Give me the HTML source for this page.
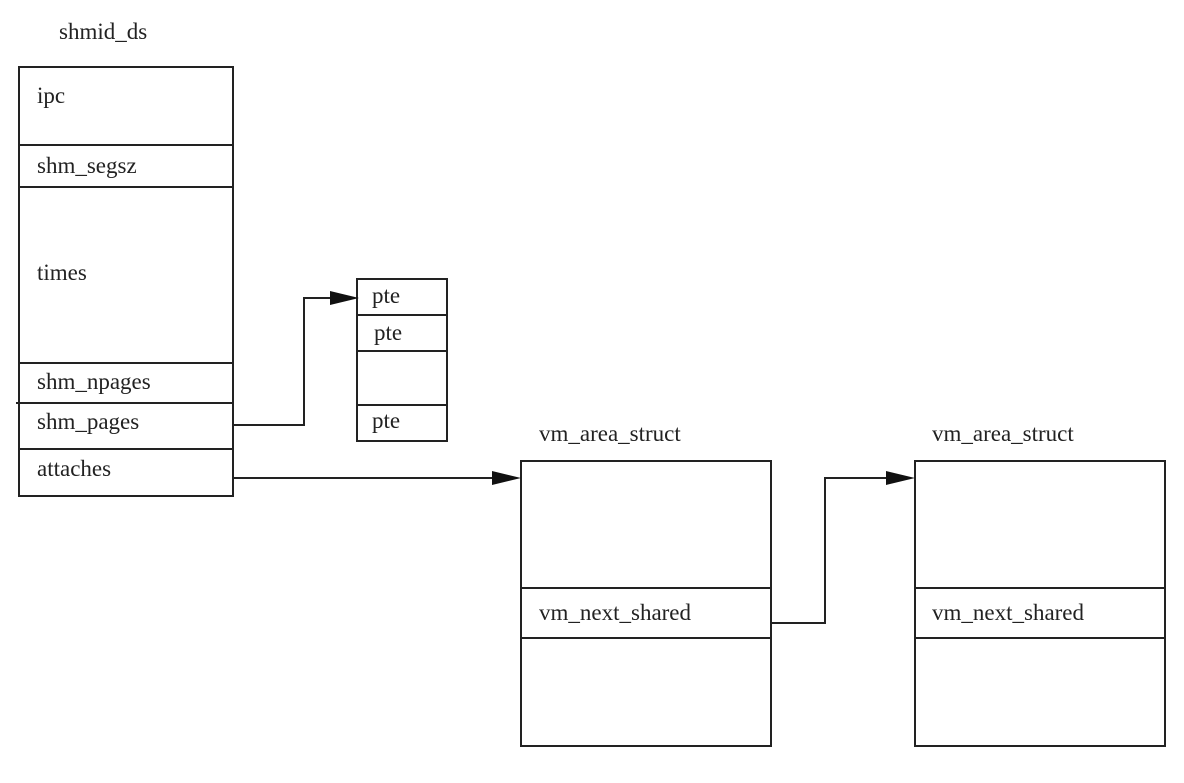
<!DOCTYPE html>
<html><head><style>
body{margin:0;background:#fff;}
svg text{font-family:"Liberation Serif",serif;font-size:23px;fill:#222;}
</style></head><body>
<svg width="1184" height="778" xmlns="http://www.w3.org/2000/svg">
<g fill="none" stroke="#222" stroke-width="2">
<rect x="19" y="67" width="214" height="429"/>
<line x1="19" y1="145" x2="233" y2="145"/>
<line x1="19" y1="187" x2="233" y2="187"/>
<line x1="19" y1="363" x2="233" y2="363"/>
<line x1="16" y1="403" x2="233" y2="403"/>
<line x1="19" y1="449" x2="233" y2="449"/>
<rect x="357" y="279" width="90" height="162"/>
<line x1="357" y1="315" x2="447" y2="315"/>
<line x1="357" y1="351" x2="447" y2="351"/>
<line x1="357" y1="405" x2="447" y2="405"/>
<rect x="521" y="461" width="250" height="285"/>
<line x1="521" y1="588" x2="771" y2="588"/>
<line x1="521" y1="638" x2="771" y2="638"/>
<rect x="915" y="461" width="250" height="285"/>
<line x1="915" y1="588" x2="1165" y2="588"/>
<line x1="915" y1="638" x2="1165" y2="638"/>
<polyline points="233,425 304,425 304,298 335,298"/>
<polyline points="233,478 495,478"/>
<polyline points="771,623 825,623 825,478 890,478"/>
</g>
<g fill="#111">
<polygon points="330,291 359,298 330,305"/>
<polygon points="492,471 521,478 492,485"/>
<polygon points="886,471 915,478 886,485"/>
</g>
<text x="59" y="39">shmid_ds</text>
<text x="37" y="103">ipc</text>
<text x="37" y="173">shm_segsz</text>
<text x="37" y="280">times</text>
<text x="37" y="389">shm_npages</text>
<text x="37" y="429">shm_pages</text>
<text x="37" y="476">attaches</text>
<text x="372" y="303">pte</text>
<text x="374" y="340">pte</text>
<text x="372" y="428">pte</text>
<text x="539" y="441">vm_area_struct</text>
<text x="539" y="620">vm_next_shared</text>
<text x="932" y="441">vm_area_struct</text>
<text x="932" y="620">vm_next_shared</text>
</svg>
</body></html>
